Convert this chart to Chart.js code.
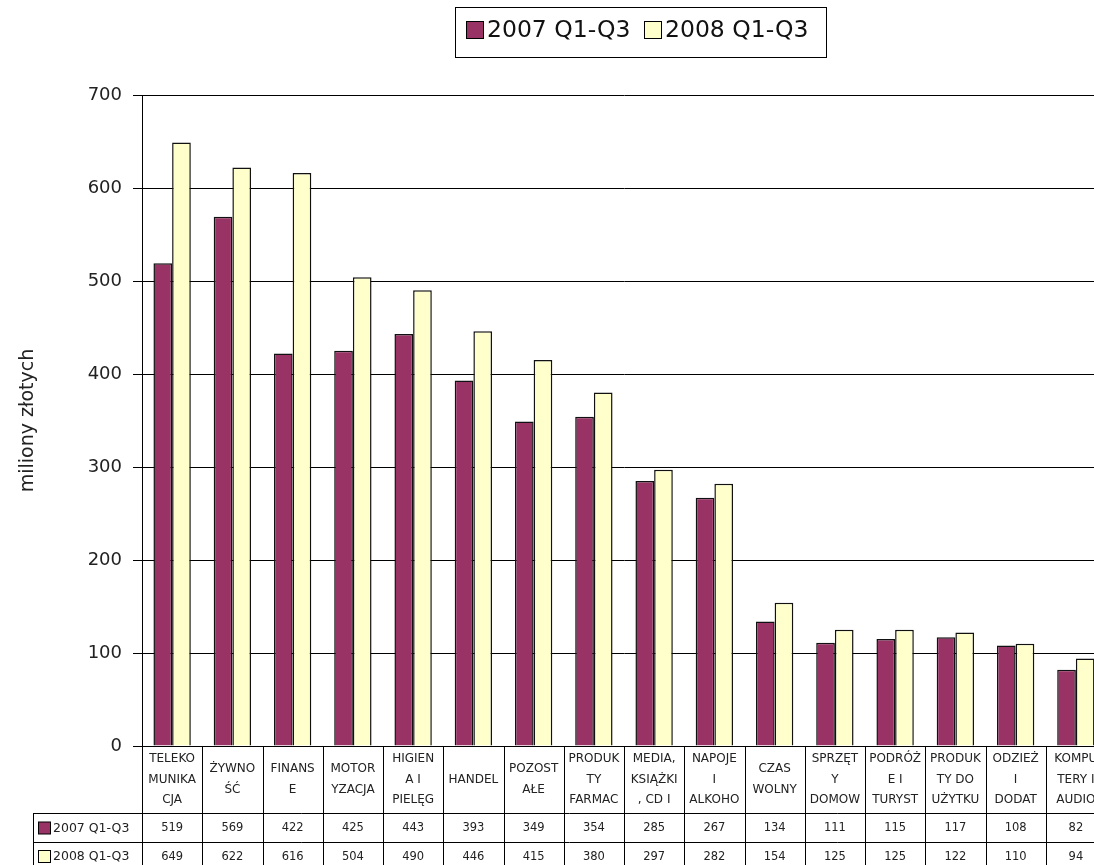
<!DOCTYPE html>
<html>
<head>
<meta charset="utf-8">
<script src="https://cdn.jsdelivr.net/npm/chart.js@4/dist/chart.umd.min.js"></script>
<style>
  html, body { margin:0; padding:0; background:#fff; overflow:hidden; }
  #wrap { position:relative; width:1110px; height:865px; }
</style>
</head>
<body>
<div id="wrap"><canvas id="chart"></canvas></div>
<script>
// categories (split into lines as in the table under the chart)
const categories = [
  ['TELEKO','MUNIKA','CJA'],
  ['ŻYWNO','ŚĆ'],
  ['FINANS','E'],
  ['MOTOR','YZACJA'],
  ['HIGIEN','A I','PIELĘG'],
  ['HANDEL'],
  ['POZOST','AŁE'],
  ['PRODUK','TY','FARMAC'],
  ['MEDIA,','KSIĄŻKI',', CD I'],
  ['NAPOJE','I','ALKOHO'],
  ['CZAS','WOLNY'],
  ['SPRZĘT','Y','DOMOW'],
  ['PODRÓŻ','E I','TURYST'],
  ['PRODUK','TY DO','UŻYTKU'],
  ['ODZIEŻ','I','DODAT'],
  ['KOMPU','TERY I','AUDIO']
];
const seriesNames = ['2007 Q1-Q3', '2008 Q1-Q3'];
const values2007 = [519, 569, 422, 425, 443, 393, 349, 354, 285, 267, 134, 111, 115, 117, 108, 82];
const values2008 = [649, 622, 616, 504, 490, 446, 415, 380, 297, 282, 154, 125, 125, 122, 110, 94];
const seriesColors = ['#993366', '#FFFFCC'];
const yTitle = 'miliony złotych';

const FONT = '"DejaVu Sans", Verdana, sans-serif';

// boxed legend at the top
const topLegend = {
  id: 'topLegend',
  afterDraw(chart) {
    const ctx = chart.ctx;
    ctx.save();
    ctx.strokeStyle = '#000';
    ctx.lineWidth = 1;
    ctx.strokeRect(455.5, 7.5, 371, 50);
    ctx.font = '23.5px ' + FONT;
    ctx.textBaseline = 'middle';
    const items = [{x: 466}, {x: 644}];
    items.forEach((it, i) => {
      ctx.fillStyle = seriesColors[i];
      ctx.fillRect(it.x + 0.5, 21.5, 17, 17);
      ctx.strokeRect(it.x + 0.5, 21.5, 17, 17);
      ctx.fillStyle = '#111';
      ctx.fillText(seriesNames[i], it.x + 21, 31);
    });
    ctx.restore();
  }
};

// data table under the plot
const dataTable = {
  id: 'dataTable',
  afterDraw(chart) {
    const ctx = chart.ctx;
    const area = chart.chartArea;
    const xs = chart.scales.x;
    const n = categories.length;
    const cw = (area.right - area.left) / n;
    const top = area.bottom;
    const r1 = 813, r2 = 842, bottom = 870;
    ctx.save();
    ctx.strokeStyle = '#000';
    ctx.lineWidth = 1;
    ctx.beginPath();
    ctx.moveTo(area.left, Math.round(top) + 0.5); ctx.lineTo(area.right, Math.round(top) + 0.5);
    ctx.moveTo(33, r1 + 0.5); ctx.lineTo(area.right, r1 + 0.5);
    ctx.moveTo(33, r2 + 0.5); ctx.lineTo(area.right, r2 + 0.5);
    ctx.moveTo(33.5, r1); ctx.lineTo(33.5, bottom);
    for (let i = 0; i <= n; i++) {
      const x = Math.round(area.left + i * cw) + 0.5;
      ctx.moveTo(x, top); ctx.lineTo(x, bottom);
    }
    ctx.stroke();

    ctx.fillStyle = '#222';
    ctx.textAlign = 'center';
    ctx.textBaseline = 'middle';
    ctx.font = '12px ' + FONT;
    const mid = (top + r1) / 2;
    categories.forEach((lines, i) => {
      const cx = xs.getPixelForValue(i);
      const lh = 20.5;
      const y0 = mid - (lines.length - 1) * lh / 2;
      lines.forEach((t, j) => ctx.fillText(t, cx, y0 + j * lh));
    });
    [values2007, values2008].forEach((vals, s) => {
      const cy = s === 0 ? (r1 + r2) / 2 + 1 : r2 + 15;
      ctx.font = '11.5px ' + FONT;
      vals.forEach((v, i) => ctx.fillText(String(v), xs.getPixelForValue(i), cy));
      ctx.fillStyle = seriesColors[s];
      ctx.fillRect(38.5, cy - 6.5, 12, 12);
      ctx.strokeRect(38.5, cy - 6.5, 12, 12);
      ctx.fillStyle = '#222';
      ctx.textAlign = 'left';
      ctx.font = '12.5px ' + FONT;
      ctx.fillText(seriesNames[s], 53, cy);
      ctx.textAlign = 'center';
    });
    ctx.restore();
  }
};

new Chart(document.getElementById('chart'), {
  type: 'bar',
  data: {
    labels: categories.map(c => c.join(' ')),
    datasets: [
      { label: seriesNames[0], data: values2007, backgroundColor: seriesColors[0], borderColor: '#111', borderWidth: 1.5 },
      { label: seriesNames[1], data: values2008, backgroundColor: seriesColors[1], borderColor: '#111', borderWidth: 1.5 }
    ]
  },
  options: {
    responsive: true,
    maintainAspectRatio: false,
    animation: false,
    layout: { padding: { top: 95, bottom: 119, left: 0, right: 4 } },
    datasets: { bar: { categoryPercentage: 0.62, barPercentage: 1 } },
    plugins: { legend: { display: false }, tooltip: { enabled: false } },
    scales: {
      x: { display: false },
      y: {
        min: 0, max: 700,
        ticks: { stepSize: 100, padding: 11, color: '#222', font: { family: FONT, size: 18 } },
        grid: { color: '#000', tickLength: 9, lineWidth: 1 },
        border: { color: '#000' },
        title: { display: true, text: yTitle, color: '#222', font: { family: FONT, size: 19 }, padding: { top: 17, bottom: 0 } },
        afterFit(scale) { scale.width = 142; }
      }
    }
  },
  plugins: [topLegend, dataTable]
});
</script>
</body>
</html>
